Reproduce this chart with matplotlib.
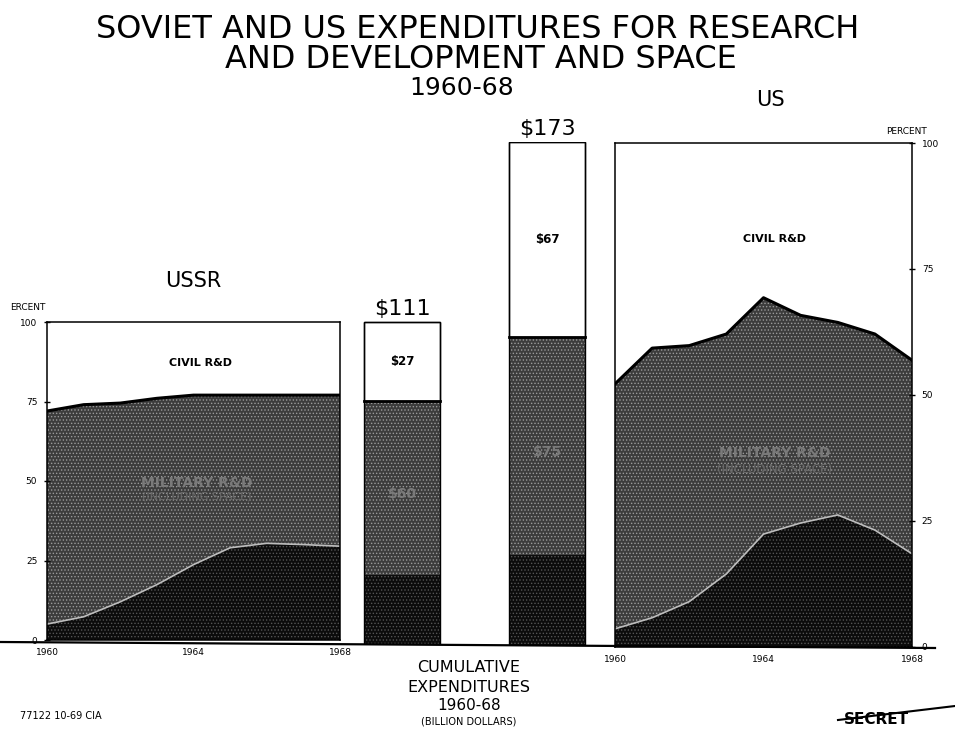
import numpy as np
import matplotlib.pyplot as plt
from matplotlib.lines import Line2D

# Data (percent of total R&D and space outlays)
years = [1960, 1961, 1962, 1963, 1964, 1965, 1966, 1967, 1968]
ussr_space = [5, 7.3, 12, 17.4, 23.7, 29, 30.4, 30, 29.5]
ussr_mil_space = [72, 74, 74.5, 76, 77, 77, 77, 77, 77]
us_space = [3.6, 5.8, 9, 14.5, 22.4, 24.6, 26.2, 23.2, 18.5]
us_mil_space = [52.2, 59.3, 59.8, 62.1, 69.3, 65.8, 64.4, 62.1, 56.9]

# Cumulative expenditures 1960-68, billion dollars
bar_names = ['USSR', 'US']
bar_space = [24, 31]
bar_military = [60, 75]
bar_civil = [27, 67]
bar_totals = [111, 173]

W, H = 955, 731
MIL = '#3c3c3c'
SPACE = '#0c0c0c'
plt.rcParams['hatch.linewidth'] = 0.6

fig = plt.figure(figsize=(W / 100, H / 100), dpi=100)


def px_axes(left, top, right, bottom):
    return fig.add_axes([left / W, 1 - bottom / H, (right - left) / W, (bottom - top) / H])


def fx(x):
    return x / W


def fy(y):
    return 1 - y / H


def area_panel(ax, space, mil_space):
    ax.fill_between(years, 0, space, facecolor=SPACE, edgecolor='#555555',
                    hatch='.....', linewidth=0)
    ax.fill_between(years, space, mil_space, facecolor=MIL, edgecolor='#9a9a9a',
                    hatch='.....', linewidth=0)
    ax.plot(years, space, color='#bdbdbd', lw=1.2)
    ax.plot(years, mil_space, color='black', lw=2.2)
    ax.set_xlim(1960, 1968)
    ax.set_ylim(0, 100)
    ax.set_yticks([0, 25, 50, 75, 100])
    ax.set_xticks([1960, 1964, 1968])
    ax.tick_params(axis='y', labelsize=6.5, length=4, width=1, direction='inout', pad=5)
    ax.tick_params(axis='x', labelsize=6.5, length=0, pad=6)
    for s in ax.spines.values():
        s.set_linewidth(1.1)


# USSR panel
ax1 = px_axes(47, 322, 340, 640)
area_panel(ax1, ussr_space, ussr_mil_space)
ax1.text(1964.2, 87, 'CIVIL R&D', ha='center', va='center', fontsize=8, fontweight='bold')
ax1.text(1964.1, 49.5, 'MILITARY R&D', ha='center', va='center', fontsize=10,
         fontweight='bold', color='#7a7a7a')
ax1.text(1964.1, 45, '(INCLUDING SPACE)', ha='center', va='center', fontsize=8,
         color='#6a6a6a')
fig.text(fx(193), fy(281), 'USSR', ha='center', va='center', fontsize=15)
fig.text(fx(10), fy(308), 'ERCENT', ha='left', va='center', fontsize=6.5)

# US panel
ax2 = px_axes(615, 143, 912, 647)
area_panel(ax2, us_space, us_mil_space)
ax2.yaxis.tick_right()
ax2.text(1964.3, 81, 'CIVIL R&D', ha='center', va='center', fontsize=8, fontweight='bold')
ax2.text(1964.3, 38.5, 'MILITARY R&D', ha='center', va='center', fontsize=10,
         fontweight='bold', color='#7a7a7a')
ax2.text(1964.3, 35.3, '(INCLUDING SPACE)', ha='center', va='center', fontsize=8.5,
         color='#6a6a6a')
fig.text(fx(770), fy(100), 'US', ha='center', va='center', fontsize=15)
fig.text(fx(886), fy(132), 'PERCENT', ha='left', va='center', fontsize=6.5)

# Cumulative bars
ax3 = px_axes(350, 142, 600, 645)
ax3.set_xlim((350 - 402) / 145, (600 - 402) / 145)
ax3.set_ylim(0, 173)
pos = np.arange(len(bar_names))
mil_bottom = np.array(bar_space)
civ_bottom = mil_bottom + np.array(bar_military)
ax3.bar(pos, bar_space, width=0.53, color=SPACE, edgecolor='#555555', hatch='.....', lw=0)
ax3.bar(pos, bar_military, width=0.53, bottom=mil_bottom, color=MIL, edgecolor='#9a9a9a',
        hatch='.....', lw=0)
ax3.bar(pos, bar_civil, width=0.53, bottom=civ_bottom, color='white', edgecolor='black', lw=1)
ax3.bar(pos, bar_totals, width=0.53, fill=False, edgecolor='black', lw=1)
for i in pos:
    ax3.plot([i - 0.265, i + 0.265], [civ_bottom[i], civ_bottom[i]], color='black', lw=2)
    ax3.text(i, bar_totals[i] + 1.2, f'${bar_totals[i]}', ha='center', va='bottom', fontsize=16)
    ax3.text(i, civ_bottom[i] + bar_civil[i] / 2, f'${bar_civil[i]}', ha='center',
             va='center', fontsize=8.5, fontweight='bold')
    ax3.text(i, mil_bottom[i] + bar_military[i] / 2 - 2, f'${bar_military[i]}', ha='center',
             va='center', fontsize=10, fontweight='bold', color='#7a7a7a')
ax3.axis('off')

# baseline across the page
fig.add_artist(Line2D([0, fx(935)], [fy(642), fy(648)], color='black', lw=1.6))

# titles and footer
fig.text(fx(478), fy(30), 'SOVIET AND US EXPENDITURES FOR RESEARCH', ha='center',
         va='center', fontsize=23)
fig.text(fx(481), fy(60), 'AND DEVELOPMENT AND SPACE', ha='center', va='center', fontsize=23)
fig.text(fx(462), fy(88), '1960-68', ha='center', va='center', fontsize=18)

fig.text(fx(469), fy(668), 'CUMULATIVE', ha='center', va='center', fontsize=11.5)
fig.text(fx(469), fy(688), 'EXPENDITURES', ha='center', va='center', fontsize=11.5)
fig.text(fx(469), fy(706), '1960-68', ha='center', va='center', fontsize=11)
fig.text(fx(469), fy(721), '(BILLION DOLLARS)', ha='center', va='center', fontsize=7)
fig.text(fx(20), fy(716), '77122 10-69 CIA', ha='left', va='center', fontsize=7)
fig.text(fx(876), fy(719), 'SECRET', ha='center', va='center', fontsize=11, fontweight='bold')
fig.add_artist(Line2D([fx(838), fx(955)], [fy(720), fy(706)], color='black', lw=1.5))

fig.savefig('out.png', dpi=100)
